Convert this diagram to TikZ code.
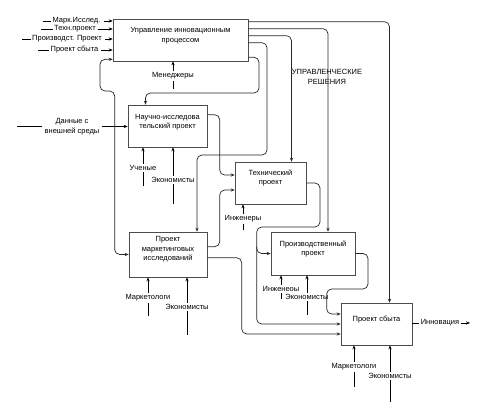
\documentclass[tikz,border=0pt]{standalone}
\usepackage{fontspec}
\setmainfont{Liberation Sans}
\usetikzlibrary{arrows.meta,calc}
\begin{document}
\begin{tikzpicture}[x=1pt,y=-1pt,
  font=\fontsize{7.5}{9.5}\selectfont,
  >={Stealth[length=4pt,width=3.2pt]},
  box/.style={draw=black!70,line width=0.6pt,inner sep=0pt},
  lbl/.style={inner sep=1.5pt,align=center},
  con/.style={draw=black!85,line width=0.7pt,rounded corners=5pt,->},
  mech/.style={line width=1pt}]
\useasboundingbox (0,0) rectangle (483,416);
% blocks
\node[box,minimum width=135,minimum height=42] (A) at (180.5,40) {};
\node[lbl] (At) at ($(A)+(0,-4.5)$) {Управление инновационным\\процессом};
\node[box,minimum width=79,minimum height=42] (B) at (167.5,126) {};
\node[lbl] (Bt) at ($(B)+(0,-4)$) {Научно-исследова\\тельский проект};
\node[box,minimum width=71,minimum height=42] (C) at (270.5,183) {};
\node[lbl] (Ct) at ($(C)+(0,-5)$) {Технический\\проект};
\node[box,minimum width=78,minimum height=45] (D) at (168,254.5) {};
\node[lbl] (Dt) at ($(D)+(0,-5)$) {Проект\\маркетинговых\\исследований};
\node[box,minimum width=84,minimum height=43] (E) at (313,253.5) {};
\node[lbl] (Et) at ($(E)+(0,-4.5)$) {Производственный\\проект};
\node[box,minimum width=71,minimum height=42] (F) at (376.5,324) {};
\node[lbl] (Ft) at ($(F)+(0,-4)$) {Проект сбыта};
\node[lbl] (upr) at (327,77) {УПРАВЛЕНЧЕСКИЕ\\РЕШЕНИЯ};
% inputs
\node[lbl] (i1) at (76.5,21) {Марк.Исслед.};
\node[lbl] (i2) at (75,29) {Техн.проект};
\node[lbl] (i3) at (67,39) {Производст. Проект};
\node[lbl] (i4) at (74.5,50) {Проект сбыта};
\draw (i1.west) -- ++(-8,0);
\draw (i2.west) -- ++(-12,0);
\draw (i3.west) -- ++(-9,0);
\draw (i4.west) -- ++(-11,0);
\draw[->] ($(i1.east)+(2,0)$) -- (i1.east -| A.west);
\draw[->] ($(i2.east)+(1,0)$) -- (i2.east -| A.west);
\draw[->] ($(i3.east)+(2,0)$) -- (i3.east -| A.west);
\draw[->] ($(i4.east)+(1,0)$) -- (i4.east -| A.west);
\node[lbl] (dat) at (72,126.5) {Данные с\\внешней среды};
\draw[mech] ($(dat.west)+(-1,0)$) -- ++(-25,0);
\draw[mech,->] ($(dat.east)+(1,0)$) -- (dat.east -| B.west);
\node[lbl] (inn) at (440,323) {Инновация};
\draw (inn.west -| F.east) -- (inn.west);
\draw[->] (inn.east) -- ++(9,0);
% controls
\draw[con] ($(A.north east)+(0,3)$) -| ($(F.north)+(13,0)$);
\draw[con] ($(A.north east)+(0,10)$) -| ($(E.north)+(15,0)$);
\draw[con] ($(A.north east)+(0,17)$) -| ($(C.north)+(21,0)$);
\draw[con] ($(A.north east)+(0,24)$) -| (267,155) -| ($(D.north)+(29,0)$);
\draw[con] ($(A.south east)+(0,-4)$) -| (259,93) -| ($(B.north)+(-22,0)$);
\draw[con,<->] ($(A.south west)+(0,-2)$) -| (100,91) -| ($(D.west)+(-14,0)$) -- (D.west);
% outputs
\draw[con] ($(B.north east)+(0,10)$) -| ($(C.west)+(-15,-8)$) -- ($(C.west)+(0,-8)$);
\draw[con] ($(D.north east)+(0,15)$) -| ($(C.west)+(-15,7)$) -- ($(C.west)+(0,7)$);
\draw[con] (C.east) -| (320,227) -| ($(F.west)+(-84,0)$) -- (F.west);
\draw[con] ($(E.west)+(-14,-7)$) |- (E.west);
\draw[con] (E.east) -| (368,289) -| ($(F.west)+(-14,-10)$) -- ($(F.west)+(0,-10)$);
\draw[con] ($(D.north east)+(0,26)$) -| ($(F.west)+(-99,10)$) -- ($(F.west)+(0,10)$);
% mechanisms
\node[lbl] (m1) at (173,76) {Менеджеры};
\node[lbl] (b1) at (143,168) {Ученые};
\node[lbl] (b2) at (173,180) {Экономисты};
\node[lbl] (c1) at (243,219) {Инженеры};
\node[lbl] (d1) at (148,298) {Маркетологи};
\node[lbl] (d2) at (187,307) {Экономисты};
\node[lbl] (e1) at (281,289) {Инженеоы};
\node[lbl] (e2) at (307,297) {Экономисты};
\node[lbl] (f1) at (354,367) {Маркетологи};
\node[lbl] (f2) at (390,376) {Экономисты};
\draw[->] (m1.north) -- (m1.north |- A.south);
\draw[mech,->] (b1.north) -- (b1.north |- B.south);
\draw[mech,->] (b2.north) -- (b2.north |- B.south);
\draw[->] (c1.north) -- (c1.north |- C.south);
\draw[mech,->] (d1.north) -- (d1.north |- D.south);
\draw[mech,->] (d2.north) -- (d2.north |- D.south);
\draw[mech,->] (e1.north) -- (e1.north |- E.south);
\draw[mech,->] (e2.north) -- (e2.north |- E.south);
\draw[mech,->] (f1.north) -- (f1.north |- F.south);
\draw[mech,->] (f2.north) -- (f2.north |- F.south);
\draw (m1.south) -- ++(0,8);
\draw[mech] (b1.south) -- ++(0,14);
\draw[mech] (b2.south) -- ++(0,20);
\draw (c1.south) -- ++(0,6);
\draw[mech] (d1.south) -- ++(0,13);
\draw[mech] (d2.south) -- ++(0,24);
\draw[mech] (e1.south) -- ++(0,6);
\draw[mech] (e2.south) -- ++(0,14);
\draw[mech] (f1.south) -- ++(0,15);
\draw[mech] (f2.south) -- ++(0,22);
\end{tikzpicture}
\end{document}
